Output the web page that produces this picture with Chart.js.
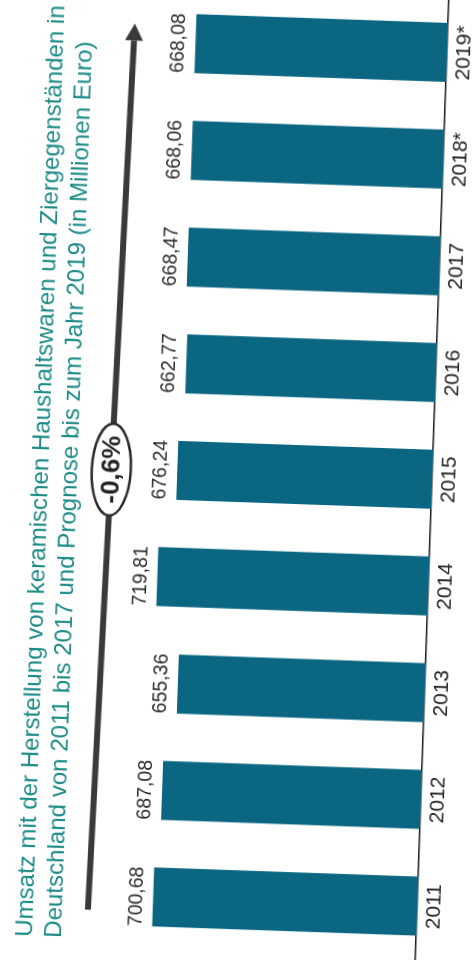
<!DOCTYPE html>
<html>
<head>
<meta charset="utf-8">
<script src="https://cdn.jsdelivr.net/npm/chart.js@4/dist/chart.umd.min.js"></script>
<style>
  html, body { margin: 0; padding: 0; background: #fff; overflow: hidden; width: 476px; height: 960px; }
  /* the chart is laid out landscape and turned onto its side */
  #wrap { position: absolute; left: -262px; top: 242px; width: 1000px; height: 476px;
          transform: rotate(-88deg); transform-origin: 50% 50%; }
</style>
</head>
<body>
<div id="wrap"><canvas id="c" width="1000" height="476"></canvas></div>
<script>
// Umsatz in Millionen Euro
const years = ['2011', '2012', '2013', '2014', '2015', '2016', '2017', '2018*', '2019*'];
const revenue = [700.68, 687.08, 655.36, 719.81, 676.24, 662.77, 668.47, 668.06, 668.08];
const titleLines = [
  'Umsatz mit der Herstellung von keramischen Haushaltswaren und Ziergegenständen in',
  'Deutschland von 2011 bis 2017 und Prognose bis zum Jahr 2019 (in Millionen Euro)'
];

const FONT = '"Liberation Sans", Arial, Helvetica, sans-serif';
const BAR = '#0b6781';
const TEAL = '#1c8a85';
const INK = '#2a2a2a';

const fmt = v => v.toFixed(2).replace('.', ',');

// average annual growth over the whole period
const cagr = Math.pow(revenue[revenue.length - 1] / revenue[0], 1 / (revenue.length - 1)) - 1;
const cagrText = (cagr * 100).toFixed(1).replace('.', ',') + '%';

const decorations = {
  id: 'decorations',
  afterDatasetsDraw(chart) {
    const ctx = chart.ctx;
    const meta = chart.getDatasetMeta(0);
    ctx.save();
    ctx.font = '19.5px ' + FONT;
    ctx.fillStyle = INK;
    ctx.textAlign = 'center';
    ctx.textBaseline = 'alphabetic';
    meta.data.forEach((bar, i) => {
      ctx.fillText(fmt(revenue[i]), bar.x, bar.y - 11);
    });
    ctx.restore();
  },
  afterDraw(chart) {
    const ctx = chart.ctx;
    const area = chart.chartArea;
    const xs = chart.scales.x;
    ctx.save();

    // title
    ctx.font = '24.1px ' + FONT;
    ctx.fillStyle = TEAL;
    ctx.textAlign = 'left';
    ctx.textBaseline = 'alphabetic';
    ctx.fillText(titleLines[0], 36, 48);
    ctx.fillText(titleLines[1], 36, 77);

    // trend arrow
    const x0 = xs.getPixelForValue(0) - 15, y0 = area.top + 48;
    const x1 = xs.getPixelForValue(years.length - 1) + 18, y1 = area.top + 64;
    const ang = Math.atan2(y1 - y0, x1 - x0);
    const headLen = 17, headHalf = 9;
    const bx = x1 - headLen * Math.cos(ang), by = y1 - headLen * Math.sin(ang);
    ctx.strokeStyle = '#3a3a3a';
    ctx.fillStyle = '#3a3a3a';
    ctx.lineWidth = 6;
    ctx.lineCap = 'butt';
    ctx.beginPath();
    ctx.moveTo(x0, y0);
    ctx.lineTo(bx, by);
    ctx.stroke();
    ctx.beginPath();
    ctx.moveTo(x1, y1);
    ctx.lineTo(bx + headHalf * Math.sin(ang), by - headHalf * Math.cos(ang));
    ctx.lineTo(bx - headHalf * Math.sin(ang), by + headHalf * Math.cos(ang));
    ctx.closePath();
    ctx.fill();

    // growth badge on the arrow
    const cx = (x0 + x1) / 2 - 3;
    const cy = y0 + (y1 - y0) * (cx - x0) / (x1 - x0);
    ctx.beginPath();
    ctx.ellipse(cx, cy, 46, 19.5, ang, 0, Math.PI * 2);
    ctx.fillStyle = '#fff';
    ctx.fill();
    ctx.lineWidth = 2.5;
    ctx.strokeStyle = '#2a2a2a';
    ctx.stroke();
    ctx.font = 'bold 26px ' + FONT;
    ctx.fillStyle = '#222';
    ctx.textAlign = 'center';
    ctx.textBaseline = 'middle';
    ctx.fillText(cagrText, cx, cy + 1);

    ctx.restore();
  }
};

new Chart(document.getElementById('c'), {
  type: 'bar',
  data: {
    labels: years,
    datasets: [{
      data: revenue,
      backgroundColor: BAR,
      borderWidth: 0,
      categoryPercentage: 1,
      barPercentage: 0.553
    }]
  },
  options: {
    responsive: false,
    animation: false,
    devicePixelRatio: 1,
    layout: { padding: { left: 27, right: 12, top: 55, bottom: 0 } },
    plugins: { legend: { display: false }, title: { display: false }, tooltip: { enabled: false } },
    scales: {
      x: {
        grid: { display: false, drawTicks: false },
        border: { display: true, color: '#1a1a1a', width: 1.5 },
        ticks: { color: '#222', font: { family: FONT, size: 21 }, padding: 5, maxRotation: 0, autoSkip: false },
        afterFit(scale) { scale.height = 44; }
      },
      y: {
        display: false,
        min: 0,
        max: 1000
      }
    }
  },
  plugins: [decorations]
});
</script>
</body>
</html>
